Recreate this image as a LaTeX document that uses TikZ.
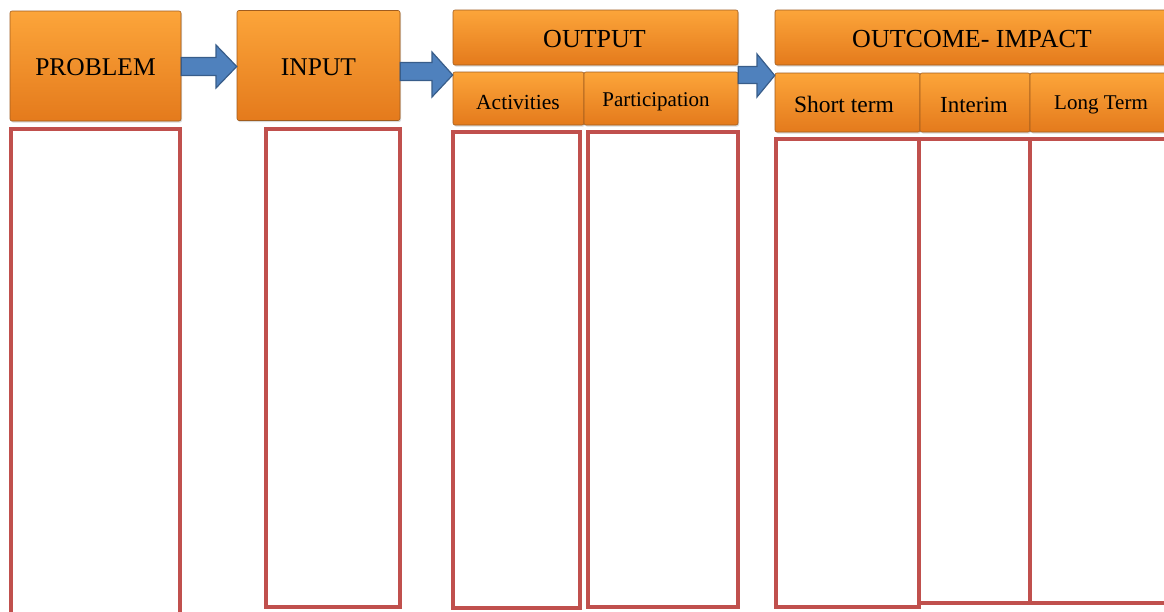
\documentclass[tikz,border=0pt]{standalone}
\usepackage{fontspec}
\setmainfont{Liberation Serif}
\usetikzlibrary{shadows}
\definecolor{oraT}{RGB}{252,165,58}
\definecolor{oraB}{RGB}{228,122,28}
\definecolor{oraD}{RGB}{160,92,30}
\definecolor{redline}{RGB}{192,80,77}
\definecolor{arrfill}{RGB}{79,129,189}
\definecolor{arrdraw}{RGB}{56,93,138}
\tikzset{
  obox/.style={rectangle, rounded corners=2pt, draw=oraD, line width=0.6pt,
    top color=oraT, bottom color=oraB, inner sep=0pt, text=black,
    drop shadow={opacity=0.3, shadow xshift=1pt, shadow yshift=-1.5pt}},
  cbox/.style={rectangle, draw=redline, line width=3.6pt, inner sep=0pt},
  barrow/.style={fill=arrfill, draw=arrdraw, line width=1.2pt, line join=miter},
  lbl/.style={inner sep=0pt}
}
\begin{document}
\begin{tikzpicture}[x=1pt,y=-1pt]
\useasboundingbox (0,0) rectangle (1164,611);
\clip (0,0) rectangle (1164,611);
% top orange boxes
\node[obox, minimum width=171, minimum height=110] (problem) at (95.5,66) {};
\node[lbl, font=\fontsize{25.5}{28}\selectfont] (problemtxt) at (95.5,67.5) {PROBLEM};
\node[obox, minimum width=163, minimum height=110] (input) at (318.5,65.5) {};
\node[lbl, font=\fontsize{25.5}{28}\selectfont] (inputtxt) at (318.5,67.5) {INPUT};
\node[obox, minimum width=285, minimum height=55] (output) at (595.5,37.5) {};
\node[lbl, font=\fontsize{26}{28}\selectfont] (outputtxt) at (594.5,39) {OUTPUT};
\node[obox, minimum width=131, minimum height=53] (activities) at (518.5,98.5) {};
\node[lbl, font=\fontsize{21.5}{24}\selectfont] (activitiestxt) at (518,102) {Activities};
\node[obox, minimum width=154, minimum height=53] (participation) at (661,98.5) {};
\node[lbl, font=\fontsize{21}{24}\selectfont] (participationtxt) at (656,102) {Participation};
\node[obox, minimum width=394, minimum height=55] (outcome) at (972,37.5) {};
\node[lbl, font=\fontsize{26}{28}\selectfont] (outcometxt) at (972,39) {OUTCOME- IMPACT};
\node[obox, minimum width=145, minimum height=59] (short) at (847.5,102.5) {};
\node[lbl, font=\fontsize{23.5}{26}\selectfont] (shorttxt) at (844,104.5) {Short term};
\node[obox, minimum width=110, minimum height=59] (interim) at (975,102.5) {};
\node[lbl, font=\fontsize{23}{26}\selectfont] (interimtxt) at (974,104.5) {Interim};
\node[obox, minimum width=142, minimum height=59] (long) at (1101,102.5) {};
\node[lbl, font=\fontsize{21}{24}\selectfont] (longtxt) at (1101,105) {Long Term};
% block arrows
\draw[barrow] (problem.east |- 0,57.5) -- (216,57.5) -- (216,45) -- (input.west |- 0,66.5) -- (216,88) -- (216,75.5) -- (problem.east |- 0,75.5) -- cycle;
\draw[barrow] (input.east |- 0,62.5) -- (432,62.5) -- (432,52) -- (output.west |- 0,75) -- (432,97) -- (432,80.5) -- (input.east |- 0,80.5) -- cycle;
\draw[barrow] (participation.east |- 0,66.5) -- (757,66.5) -- (757,54) -- (short.west |- 0,75.5) -- (757,97) -- (757,83.5) -- (participation.east |- 0,83.5) -- cycle;
% red columns
\node[cbox, minimum width=169, minimum height=520] (c1) at (95.5,389) {};
\node[cbox, minimum width=134, minimum height=478] (c2) at (333,368) {};
\node[cbox, minimum width=127, minimum height=476] (c3) at (516.5,370) {};
\node[cbox, minimum width=150, minimum height=475] (c4) at (663,369.5) {};
\node[cbox, minimum width=143, minimum height=468] (c5) at (847.5,373) {};
\node[cbox, minimum width=111, minimum height=464] (c6) at (974.5,371) {};
\node[cbox, minimum width=145, minimum height=464] (c7) at (1102.5,371) {};
\end{tikzpicture}
\end{document}
